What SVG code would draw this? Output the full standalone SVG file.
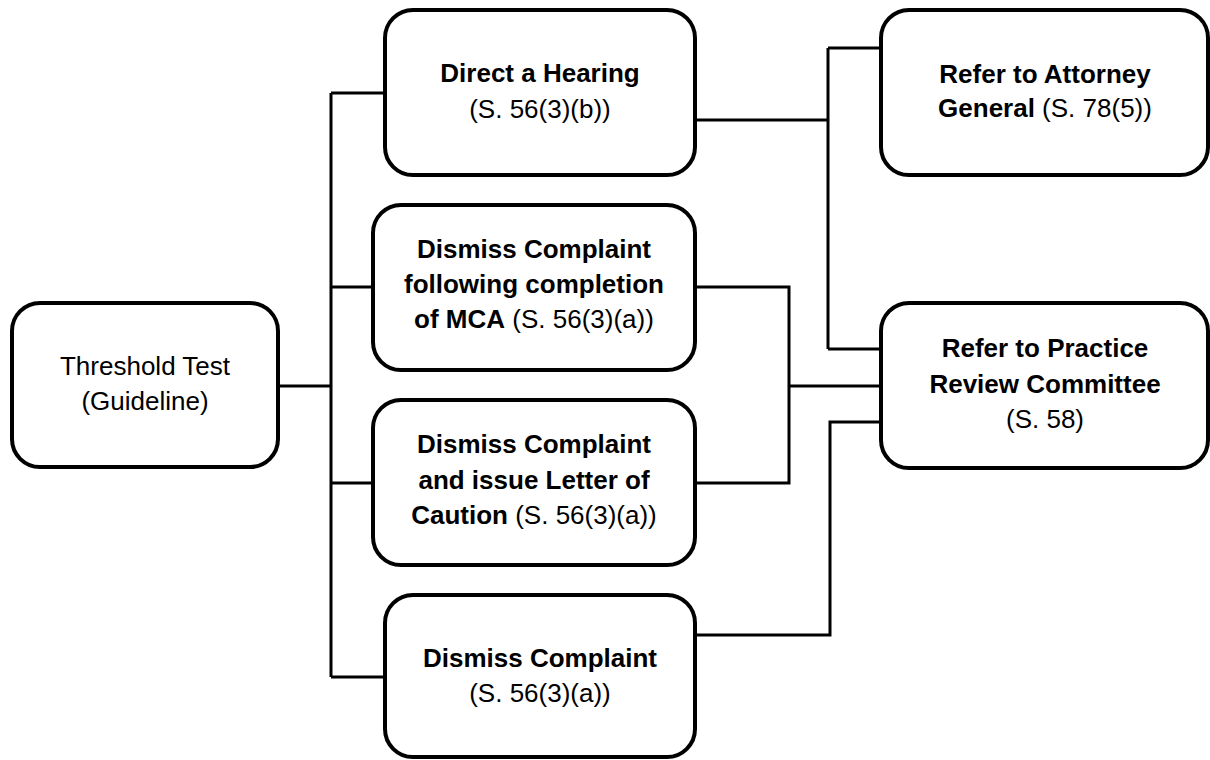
<svg xmlns="http://www.w3.org/2000/svg" width="1210" height="760" viewBox="0 0 1210 760">
<style>
.box{fill:#fff;stroke:#000;stroke-width:4}
.ln{fill:none;stroke:#000;stroke-width:3}
text{font-family:"Liberation Sans",Arial,sans-serif;font-size:26px;text-anchor:middle;fill:#000}
.b{font-weight:bold}
</style>
<rect width="1210" height="760" fill="#fff"/>
<g id="connectors">
<path class="ln" d="M278,386 H331 M331,93 V677 M331,93 H385 M331,287 H373 M331,483 H373 M331,677 H385"/>
<path class="ln" d="M695,120 H828 M828,48 V349 M828,48 H881 M828,349 H881"/>
<path class="ln" d="M695,287 H789 V483 H695 M789,386 H881"/>
<path class="ln" d="M695,635 H830 V422 H881"/>
</g>
<g id="threshold">
<rect class="box" x="12" y="303" width="266" height="164" rx="28"/>
<text x="145" y="375">Threshold Test</text>
<text x="145" y="410">(Guideline)</text>
</g>
<g id="hearing">
<rect class="box" x="385" y="10" width="310" height="165" rx="28"/>
<text x="540" y="82" class="b">Direct a Hearing</text>
<text x="540" y="118">(S. 56(3)(b))</text>
</g>
<g id="mca">
<rect class="box" x="373" y="205" width="322" height="165" rx="28"/>
<text x="534" y="258" class="b">Dismiss Complaint</text>
<text x="534" y="293" class="b">following completion</text>
<text x="534" y="328"><tspan class="b">of MCA</tspan> (S. 56(3)(a))</text>
</g>
<g id="caution">
<rect class="box" x="373" y="400" width="322" height="165" rx="28"/>
<text x="534" y="453" class="b">Dismiss Complaint</text>
<text x="534" y="489" class="b">and issue Letter of</text>
<text x="534" y="524"><tspan class="b">Caution</tspan> (S. 56(3)(a))</text>
</g>
<g id="dismiss">
<rect class="box" x="385" y="595" width="310" height="162" rx="28"/>
<text x="540" y="667" class="b">Dismiss Complaint</text>
<text x="540" y="702">(S. 56(3)(a))</text>
</g>
<g id="attorney">
<rect class="box" x="881" y="10" width="327" height="165" rx="28"/>
<text x="1045" y="83" class="b">Refer to Attorney</text>
<text x="1045" y="117"><tspan class="b">General</tspan> (S. 78(5))</text>
</g>
<g id="practice">
<rect class="box" x="881" y="303" width="327" height="165" rx="28"/>
<text x="1045" y="357" class="b">Refer to Practice</text>
<text x="1045" y="393" class="b">Review Committee</text>
<text x="1045" y="428">(S. 58)</text>
</g>
</svg>
